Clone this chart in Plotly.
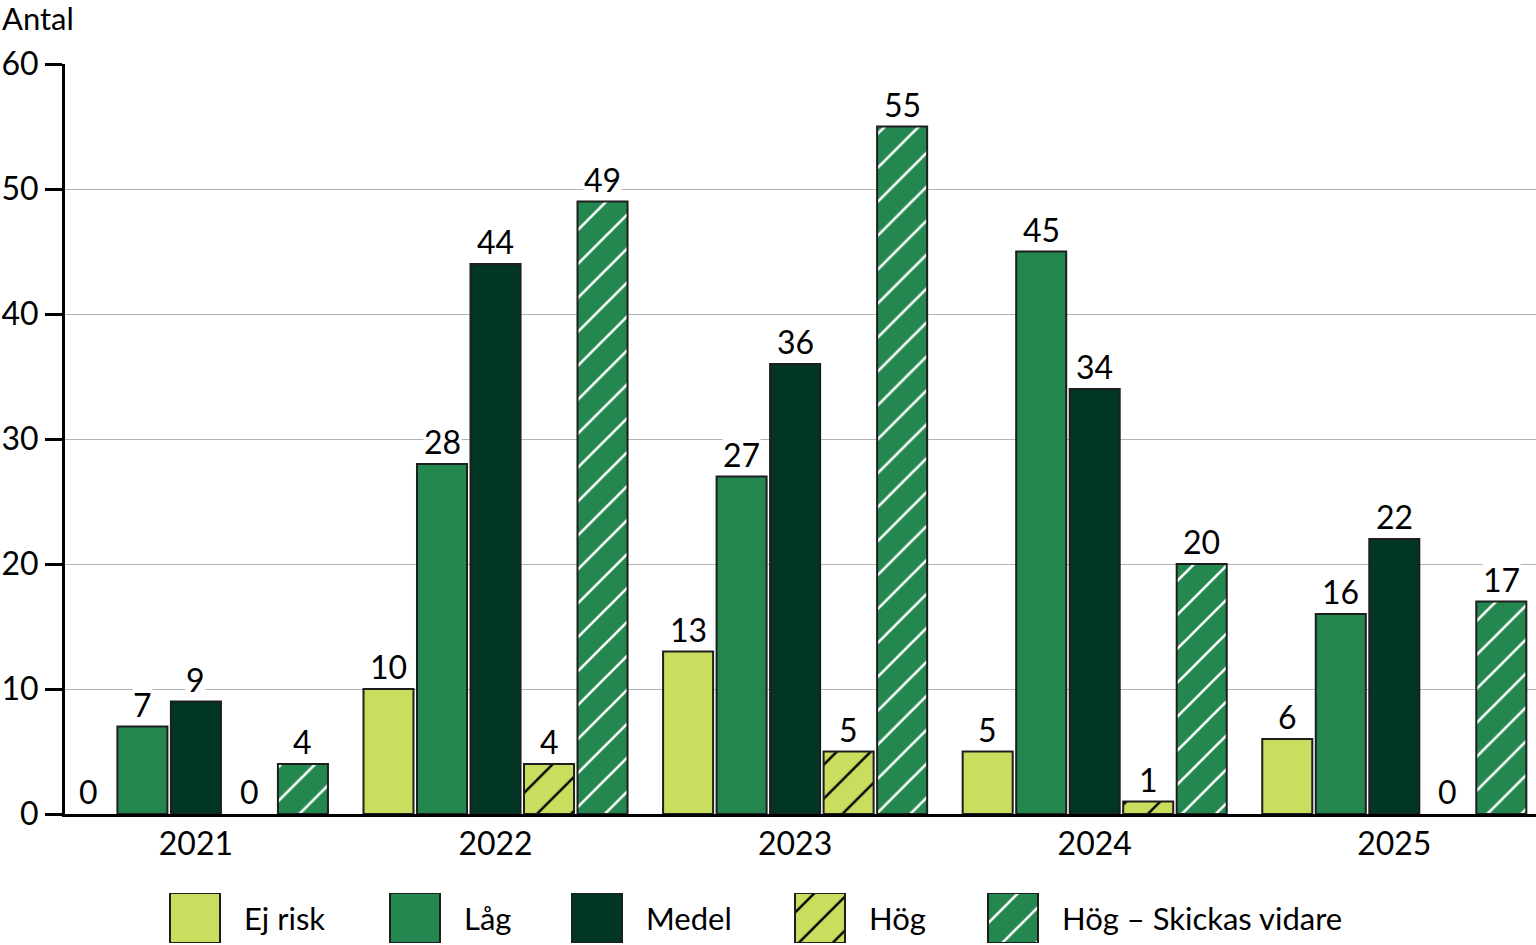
import plotly.graph_objects as go

W, H = 1536, 945

years = ["2021", "2022", "2023", "2024", "2025"]
series = ["Ej risk", "Låg", "Medel", "Hög", "Hög – Skickas vidare"]
ej_risk = [0, 10, 13, 5, 6]
lag = [7, 28, 27, 45, 16]
medel = [9, 44, 36, 34, 22]
hog = [0, 4, 5, 1, 0]
hog_vidare = [4, 49, 55, 20, 17]
values = [ej_risk, lag, medel, hog, hog_vidare]

LIGHT = "#C9DD5E"
MID = "#23874F"
DARK = "#013624"
FONT = "Lato"

styles = [
    dict(color=LIGHT),
    dict(color=MID),
    dict(color=DARK),
    dict(color=LIGHT, pattern=dict(shape="/", fgcolor="black", bgcolor=LIGHT, size=24, solidity=0.1)),
    dict(color=MID, pattern=dict(shape="/", fgcolor="white", bgcolor=MID, size=24, solidity=0.11)),
]
OUTLINE = "#1e1e1e"

# plot area in pixels
left, right, top, bottom = 65, 1536, 64, 814
bargap = 0.107
slot = (1 - bargap) / len(series)

fig = go.Figure()
for name, vals, st in zip(series, values, styles):
    # no outline for empty bars
    lw = [2 if v > 0 else 0 for v in vals]
    fig.add_trace(go.Bar(x=years, y=vals, name=name,
                         marker=dict(**st, line=dict(color=OUTLINE, width=lw)),
                         showlegend=False))

# value labels with white background
ann = []
for k, vals in enumerate(values):
    for i, v in enumerate(vals):
        ann.append(dict(x=i + (k - 2) * slot, y=v, xref="x", yref="y", text=str(v),
                        showarrow=False, yanchor="bottom", xanchor="center",
                        bgcolor="white", borderpad=0, yshift=2,
                        font=dict(size=32, color="black", family=FONT)))

# custom legend with big squares
leg_left = [170, 390, 572, 795, 988]
for name, st, x0 in zip(series, styles, leg_left):
    fig.add_trace(go.Bar(x=[x0 + 25], y=[1], width=50, xaxis="x2", yaxis="y2",
                         marker=dict(**st, line=dict(color=OUTLINE, width=2)),
                         showlegend=False, hoverinfo="skip"))
    ann.append(dict(x=x0 + 72, y=0.5, xref="x2", yref="y2", text=name, showarrow=False,
                    xanchor="left", yanchor="middle",
                    font=dict(size=31, color="black", family=FONT)))

ann.append(dict(x=0, y=1 - 18 / H, xref="paper", yref="paper", text="Antal", showarrow=False,
                xanchor="left", yanchor="middle", font=dict(size=31, color="black", family=FONT)))

fig.update_layout(
    template="none",
    width=W, height=H,
    margin=dict(l=0, r=0, t=0, b=0, autoexpand=False),
    paper_bgcolor="white", plot_bgcolor="white",
    barmode="group", bargap=bargap, bargroupgap=0.065,
    font=dict(family=FONT, size=31, color="black"),
    annotations=ann,
    xaxis=dict(type="category", domain=[left / W, right / W], range=[-0.437, 4.473],
               showline=True, linecolor="black", linewidth=3, ticks="", showgrid=False,
               automargin=False, tickfont=dict(size=32), ticklabelstandoff=0),
    yaxis=dict(domain=[1 - bottom / H, 1 - top / H], range=[0, 60], dtick=10,
               showline=True, linecolor="black", linewidth=3, ticks="outside",
               ticklen=17, tickwidth=3, tickcolor="black", showgrid=True, automargin=False,
               gridcolor="#b4b4b4", gridwidth=1, zeroline=False, tickfont=dict(size=32)),
    xaxis2=dict(domain=[0, 1], range=[0, W], visible=False, anchor="y2", automargin=False),
    yaxis2=dict(domain=[(H - 943) / H, (H - 893) / H], range=[0, 1], visible=False,
                anchor="x2", automargin=False),
)

fig.write_html("out.html", config={"displayModeBar": False},
               post_script="document.body.style.margin='0';")
